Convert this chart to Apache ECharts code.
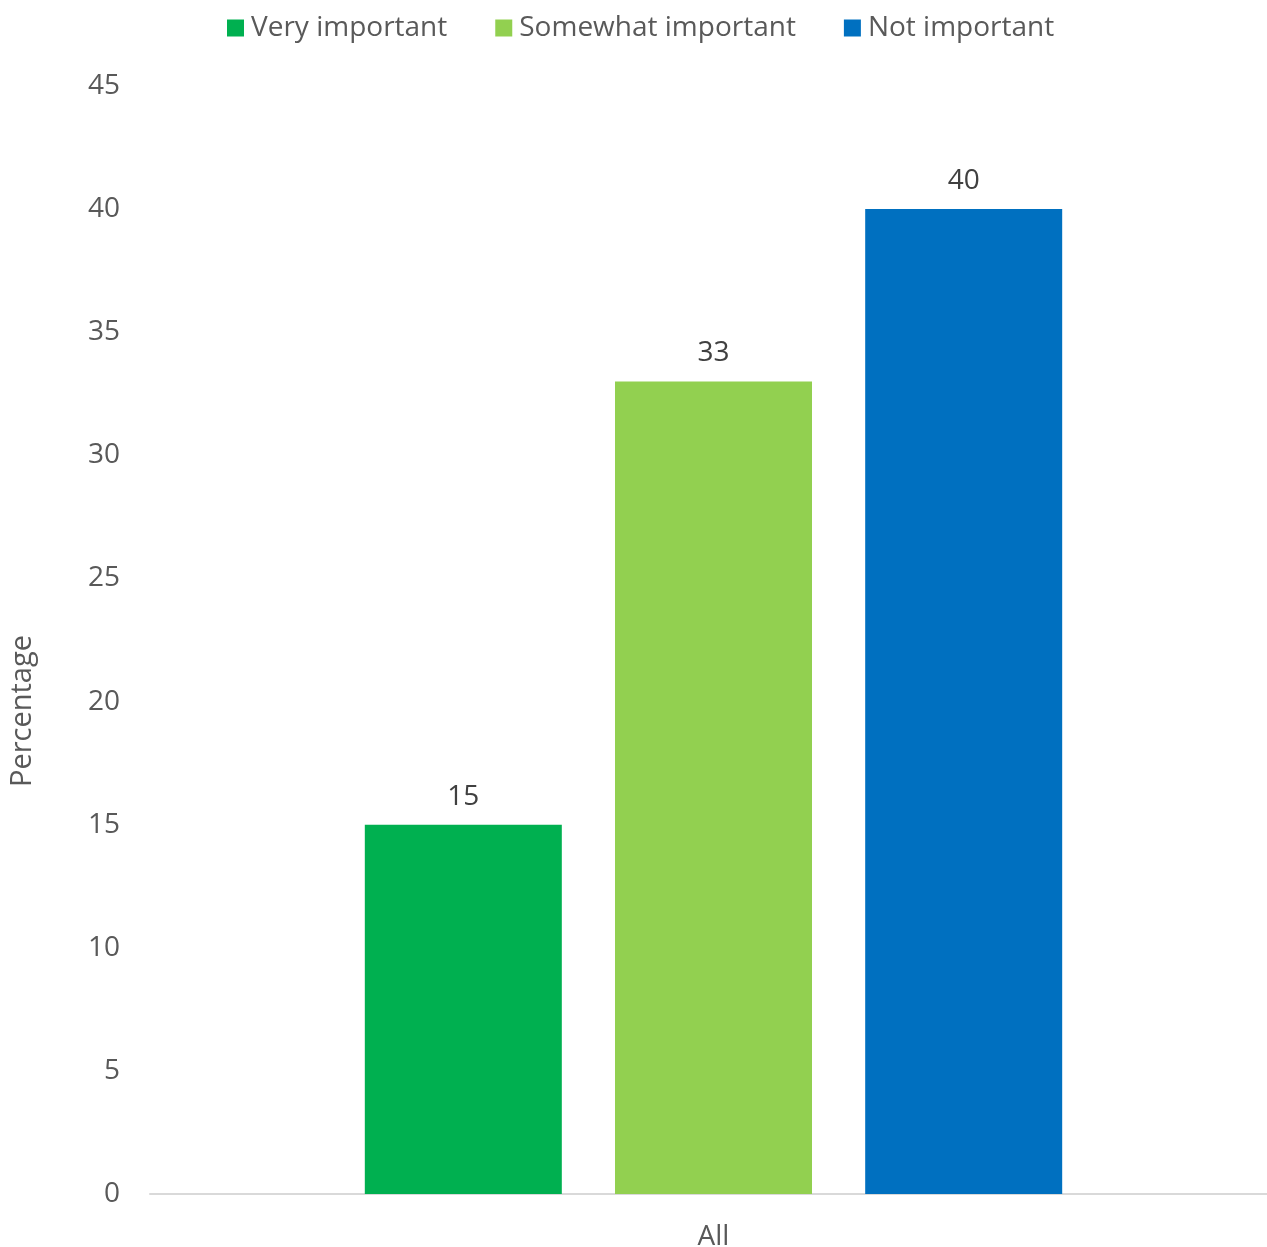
<!DOCTYPE html>
<html>
<head>
<meta charset="utf-8">
<script src="https://cdn.jsdelivr.net/npm/echarts@6/dist/echarts.min.js"></script>
<style>html,body{margin:0;padding:0;background:#fff}#c{width:1267px;height:1247px}</style>
</head>
<body>
<div id="c"></div>
<script>
const categories = ['All'];
const seriesNames = ['Very important', 'Somewhat important', 'Not important'];
const veryImportant = [15];
const somewhatImportant = [33];
const notImportant = [40];
const yTicks = [0, 5, 10, 15, 20, 25, 30, 35, 40, 45];

const colors = ['#00B050', '#92D050', '#0070C0'];
const font = '"Open Sans", "Noto Sans", sans-serif';
const txt = '#595959';
const values = [veryImportant, somewhatImportant, notImportant];

const chart = echarts.init(document.getElementById('c'));
chart.setOption({
  animation: false,
  textStyle: { fontFamily: font },
  legend: {
    top: 9,
    left: 222,
    itemWidth: 17,
    itemHeight: 17,
    itemGap: 48,
    icon: 'rect',
    textStyle: { fontSize: 28, color: txt, fontFamily: font, padding: [0, 0, 0, 2] },
    data: seriesNames
  },
  grid: { left: 150, right: -10, top: 86, bottom: 53, containLabel: false, outerBoundsMode: 'none' },
  xAxis: {
    type: 'category',
    data: categories,
    axisLine: { lineStyle: { color: '#d9d9d9', width: 2 } },
    axisTick: { show: false },
    axisLabel: { fontSize: 28, color: txt, margin: 29, fontFamily: font }
  },
  yAxis: {
    type: 'value',
    min: yTicks[0],
    max: yTicks[yTicks.length - 1],
    interval: 5,
    splitLine: { show: false },
    axisLine: { show: false },
    axisTick: { show: false },
    axisLabel: { fontSize: 28, color: txt, margin: 30, fontFamily: font, padding: [4, 0, 0, 0] }
  },
  graphic: [{
    type: 'text',
    left: 8,
    top: 635,
    rotation: Math.PI / 2,
    style: { text: 'Percentage', fontSize: 29, fill: txt, fontFamily: font }
  }],
  series: seriesNames.map((n, i) => ({
    name: n,
    type: 'bar',
    data: values[i],
    barWidth: 197,
    barGap: '27%',
    itemStyle: { color: colors[i] },
    label: { show: true, position: 'top', distance: 14, fontSize: 28, color: '#404040', fontFamily: font }
  }))
});
</script>
</body>
</html>
